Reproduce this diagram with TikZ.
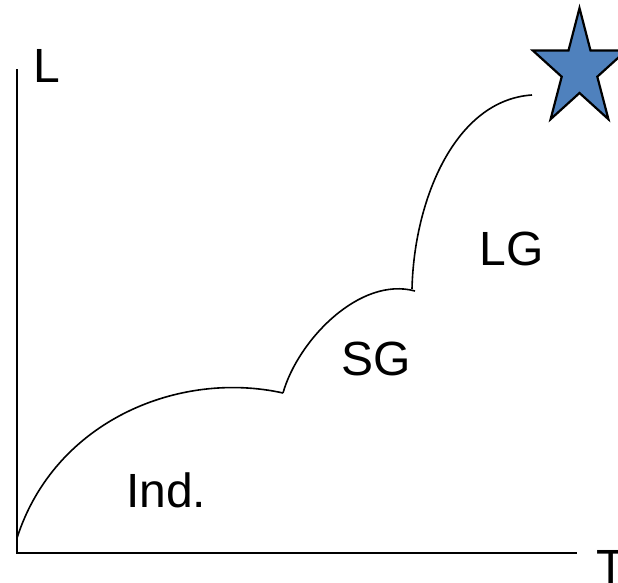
\documentclass[tikz,border=0pt]{standalone}
\usepackage{fontspec}
\setmainfont{Liberation Sans}
\begin{document}
\begin{tikzpicture}[x=1pt,y=-1pt,
  lbl/.style={anchor=base west,inner sep=0pt,outer sep=0pt,font=\fontsize{48}{58}\selectfont},
  axisline/.style={line width=2.2pt,line cap=rect},
  growth/.style={line width=1.6pt},
  starfill/.style={fill=starblue,draw=black,line width=2.2pt,line join=miter}]
\definecolor{starblue}{HTML}{4F81BD}
\useasboundingbox (0,0) rectangle (618,583);
\clip (0,0) rectangle (618,583);
% axes
\coordinate (top) at (17,70);
\coordinate (origin) at (17,553);
\coordinate (right) at (576,553);
\draw[axisline] (top) -- (origin) -- (right);
% growth curve
\coordinate (p0) at (17,538);
\coordinate (p1) at (283,393);
\coordinate (p1b) at (412,289);
\coordinate (p2) at (415,291);
\coordinate (p3) at (532,95);
\draw[growth] (p0) .. controls (55,420) and (180,370) .. (p1);
\draw[growth] (p1) .. controls (298,340) and (360,276) .. (p2);
\draw[growth] (p1b) .. controls (414,200) and (455,100) .. (p3);
% star
\draw[starfill] (579.5,8.1) -- (590.5,50.5) -- (626.2,50.5) -- (597.3,76.7) -- (608.4,119.2)
  -- (579.5,93) -- (550.6,119.2) -- (561.7,76.7) -- (532.8,50.5) -- (568.5,50.5) -- cycle;
% labels
\node[lbl] (L) at (33.5,83) {L};
\node[lbl] (T) at (596,583) {T};
\node[lbl] (ind) at (126,507) {Ind.};
\node[lbl] (SG) at (341,375) {SG};
\node[lbl] (LG) at (479.5,265) {LG};
\end{tikzpicture}
\end{document}
